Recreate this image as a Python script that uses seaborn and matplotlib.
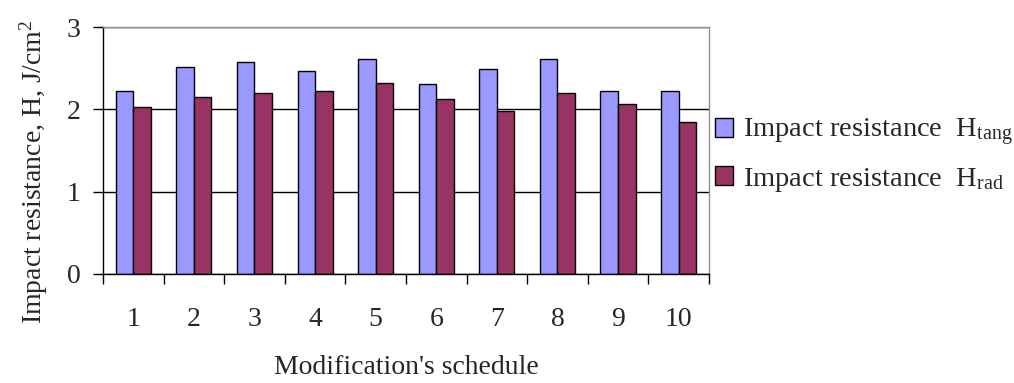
import numpy as np
import pandas as pd
import matplotlib
matplotlib.use("Agg")
import matplotlib.pyplot as plt
import seaborn as sns

schedules = ["1", "2", "3", "4", "5", "6", "7", "8", "9", "10"]
h_tang = [2.22, 2.52, 2.57, 2.46, 2.61, 2.31, 2.49, 2.61, 2.22, 2.22]
h_rad = [2.03, 2.15, 2.20, 2.22, 2.32, 2.13, 1.98, 2.20, 2.07, 1.85]
series = ["Impact resistance  H$_{\\mathrm{tang}}$", "Impact resistance  H$_{\\mathrm{rad}}$"]

sns.set_style("white")
plt.rcParams["font.family"] = ["Liberation Serif", "DejaVu Serif"]
plt.rcParams["mathtext.fontset"] = "custom"
plt.rcParams["mathtext.rm"] = "Liberation Serif"
plt.rcParams["mathtext.it"] = "Liberation Serif:italic"

df = pd.DataFrame({
    "schedule": schedules * 2,
    "value": h_tang + h_rad,
    "series": [series[0]] * len(schedules) + [series[1]] * len(schedules),
})

fs = 20

fig = plt.figure(figsize=(10.14, 3.83), dpi=100)
ax = fig.add_axes([0.1016, 0.2846, 0.5975, 0.6449])

sns.barplot(data=df, x="schedule", y="value", hue="series",
            palette=["#9999FF", "#993366"], width=0.58, gap=0,
            edgecolor="black", linewidth=1.0, saturation=1, ax=ax,
            legend=True)

ax.set_ylim(0, 3)
ax.set_xlim(-0.5, len(schedules) - 0.5)
ax.set_yticks([0, 1, 2, 3])
ax.yaxis.grid(True, color="black", linewidth=1.0)
ax.set_axisbelow(True)

ax.set_xticks(np.arange(len(schedules)))
ax.set_xticklabels(schedules)
ax.set_xticks(np.arange(-0.5, len(schedules)), minor=True)
ax.tick_params(axis="x", which="major", length=0, pad=24, labelsize=fs)
ax.tick_params(axis="x", which="minor", length=7, width=1, color="black", direction="out")
ax.tick_params(axis="y", length=7, width=1, color="black", direction="out", labelsize=fs, pad=9)
ax.tick_params(left=True, bottom=True, which="both")

for side in ["left", "bottom"]:
    ax.spines[side].set_color("black")
    ax.spines[side].set_linewidth(1.0)
for side in ["top", "right"]:
    ax.spines[side].set_color("#909090")
    ax.spines[side].set_linewidth(1.0)

ax.set_xlabel("Modification's schedule", fontsize=fs, labelpad=16)
ax.set_ylabel("Impact resistance, H, J/cm$^2$", fontsize=fs)
ax.yaxis.set_label_coords(-0.088, 0.413)

handles, labels = ax.get_legend_handles_labels()
ax.get_legend().remove()
fig.legend(handles, labels, loc="center left", bbox_to_anchor=(0.705, 0.595),
           frameon=False, fontsize=20.5, handlelength=0.62, handleheight=0.62,
           handletextpad=0.36, labelspacing=0.6, borderpad=0, borderaxespad=0)

fig.savefig("out.png", dpi=100)
